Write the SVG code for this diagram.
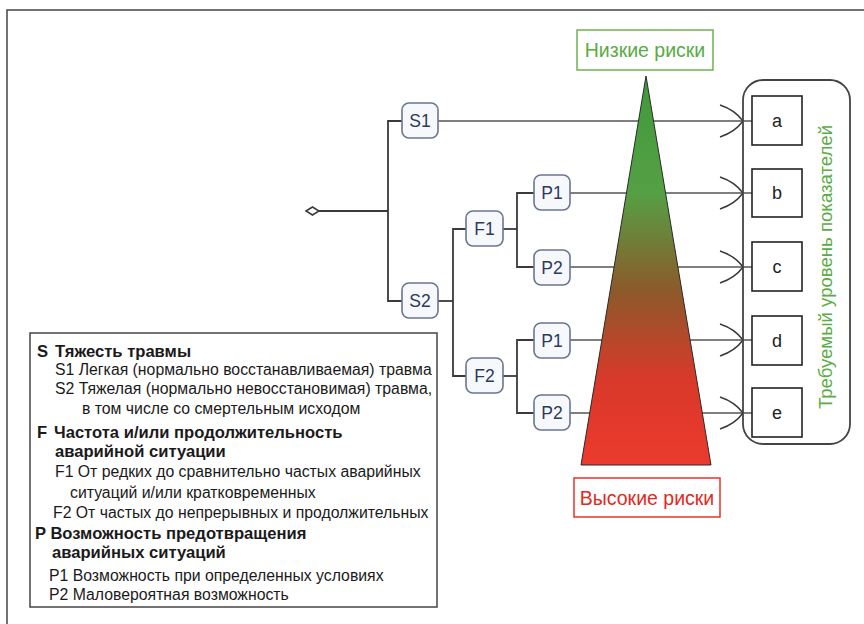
<svg xmlns="http://www.w3.org/2000/svg" width="864" height="624" viewBox="0 0 864 624">
<style>
.frame{fill:none;stroke:#444;stroke-width:1.5}
.node rect{fill:#f6f8fb;stroke:#6a7690;stroke-width:1.6}
.node text{font-family:"Liberation Sans",Arial,sans-serif;font-size:17.5px;fill:#2c3a5c;text-anchor:middle}
.out rect{fill:#fff;stroke:#222;stroke-width:1.6}
.out text{font-family:"Liberation Sans",Arial,sans-serif;font-size:18px;fill:#222;text-anchor:middle}
.conn line,.conn polyline{fill:none;stroke:#3a3a3a;stroke-width:1.8}
.conn .thin{stroke:#555;stroke-width:1.5}
.arr{fill:none;stroke:#3a3a3a;stroke-width:1.5}
.leg{font-family:"Liberation Sans",Arial,sans-serif;font-size:15.8px;fill:#1a1a1a}
.leg .b{font-weight:bold;font-size:16.6px}
</style>
<defs>
<linearGradient id="tri" x1="0" y1="0" x2="0" y2="1">
<stop offset="0" stop-color="#3f9a3a"/>
<stop offset="0.3" stop-color="#55a045"/>
<stop offset="0.55" stop-color="#8c5a2a"/>
<stop offset="0.78" stop-color="#d8392a"/>
<stop offset="1" stop-color="#ec3a2e"/>
</linearGradient>
<path id="ah" d="M-23,-16 Q-8,-11 0,0 M-23,16 Q-8,11 0,0"/>
</defs>
<rect width="864" height="624" fill="#fff"/>
<polyline class="frame" points="7,624 7,10 864,10"/>

<g id="connectors" class="conn">
<polygon points="306,211 312.5,207 319,211 312.5,215" fill="#fff" stroke="#3a3a3a" stroke-width="1.5"/>
<line x1="319" y1="211" x2="388" y2="211"/>
<polyline points="402,121 388,121 388,301 402,301"/>
<line x1="438" y1="301" x2="453" y2="301"/>
<polyline points="466,229 453,229 453,376 466,376"/>
<line x1="503" y1="229" x2="517" y2="229"/>
<polyline points="534,193 517,193 517,267 534,267"/>
<line x1="503" y1="376" x2="517" y2="376"/>
<polyline points="534,340 517,340 517,413 534,413"/>
<line class="thin" x1="438" y1="121" x2="752" y2="121"/>
<line class="thin" x1="570" y1="193" x2="752" y2="193"/>
<line class="thin" x1="570" y1="267" x2="752" y2="267"/>
<line class="thin" x1="570" y1="340" x2="752" y2="340"/>
<line class="thin" x1="570" y1="413" x2="752" y2="413"/>
<use href="#ah" class="arr" transform="translate(743,121)"/>
<use href="#ah" class="arr" transform="translate(743,193)"/>
<use href="#ah" class="arr" transform="translate(743,267)"/>
<use href="#ah" class="arr" transform="translate(743,340)"/>
<use href="#ah" class="arr" transform="translate(743,413)"/>
</g>

<g id="triangle">
<polygon points="646,76 711,465 581,465" fill="url(#tri)" stroke="#2a2a2a" stroke-width="1"/>
</g>

<g id="low-risk">
<rect x="577" y="30" width="136" height="40" fill="#fff" stroke="#6db24f" stroke-width="1.5"/>
<text x="645" y="57" font-family="'Liberation Sans',Arial,sans-serif" font-size="19.5" fill="#5aac44" text-anchor="middle">Низкие риски</text>
</g>
<g id="high-risk">
<rect x="574" y="478" width="146" height="39" fill="#fff" stroke="#e8332a" stroke-width="1.5"/>
<text x="647" y="505" font-family="'Liberation Sans',Arial,sans-serif" font-size="19.5" fill="#e02a22" text-anchor="middle">Высокие риски</text>
</g>

<g id="S1" class="node"><rect x="402" y="103" width="36" height="35" rx="7"/><text x="420" y="127">S1</text></g>
<g id="S2" class="node"><rect x="402" y="283" width="36" height="35" rx="7"/><text x="420" y="307">S2</text></g>
<g id="F1" class="node"><rect x="466" y="211" width="37" height="35" rx="7"/><text x="484.5" y="235">F1</text></g>
<g id="F2" class="node"><rect x="466" y="358" width="37" height="35" rx="7"/><text x="484.5" y="382">F2</text></g>
<g id="P1a" class="node"><rect x="534" y="175" width="36" height="35" rx="7"/><text x="552" y="199">P1</text></g>
<g id="P2a" class="node"><rect x="534" y="250" width="36" height="35" rx="7"/><text x="552" y="274">P2</text></g>
<g id="P1b" class="node"><rect x="534" y="323" width="36" height="35" rx="7"/><text x="552" y="347">P1</text></g>
<g id="P2b" class="node"><rect x="534" y="395" width="36" height="35" rx="7"/><text x="552" y="419">P2</text></g>

<g id="container">
<rect x="743" y="80" width="107" height="364" rx="20" fill="none" stroke="#444" stroke-width="1.8"/>
<text transform="translate(832,267) rotate(-90)" font-family="'Liberation Sans',Arial,sans-serif" font-size="18.6" fill="#5aac44" text-anchor="middle">Требуемый уровень показателей</text>
</g>
<g id="a" class="out"><rect x="752" y="96" width="50" height="49"/><text x="777" y="127">a</text></g>
<g id="b" class="out"><rect x="752" y="169" width="50" height="48"/><text x="777" y="199">b</text></g>
<g id="c" class="out"><rect x="752" y="242" width="50" height="49"/><text x="777" y="273">c</text></g>
<g id="d" class="out"><rect x="752" y="316" width="50" height="49"/><text x="777" y="347">d</text></g>
<g id="e" class="out"><rect x="752" y="388" width="50" height="49"/><text x="777" y="419">e</text></g>

<g id="legend" class="leg">
<rect x="30" y="333" width="407" height="274" fill="#fff" stroke="#444" stroke-width="1.5"/>
<text class="b" x="37" y="357">S</text>
<text class="b" x="55" y="357">Тяжесть травмы</text>
<text x="55" y="375">S1 Легкая (нормально восстанавливаемая) травма</text>
<text x="55" y="394">S2 Тяжелая (нормально невосстановимая) травма,</text>
<text x="82" y="414">в том числе со смертельным исходом</text>
<text class="b" x="37" y="438">F</text>
<text class="b" x="54" y="438">Частота и/или продолжительность</text>
<text class="b" x="55" y="457">аварийной ситуации</text>
<text x="55" y="477">F1 От редких до сравнительно частых аварийных</text>
<text x="70" y="498">ситуаций и/или кратковременных</text>
<text x="53" y="518">F2 От частых до непрерывных и продолжительных</text>
<text class="b" x="35" y="539">P Возможность предотвращения</text>
<text class="b" x="52" y="558">аварийных ситуаций</text>
<text x="49" y="581">P1 Возможность при определенных условиях</text>
<text x="49" y="600">P2 Маловероятная возможность</text>
</g>
</svg>
